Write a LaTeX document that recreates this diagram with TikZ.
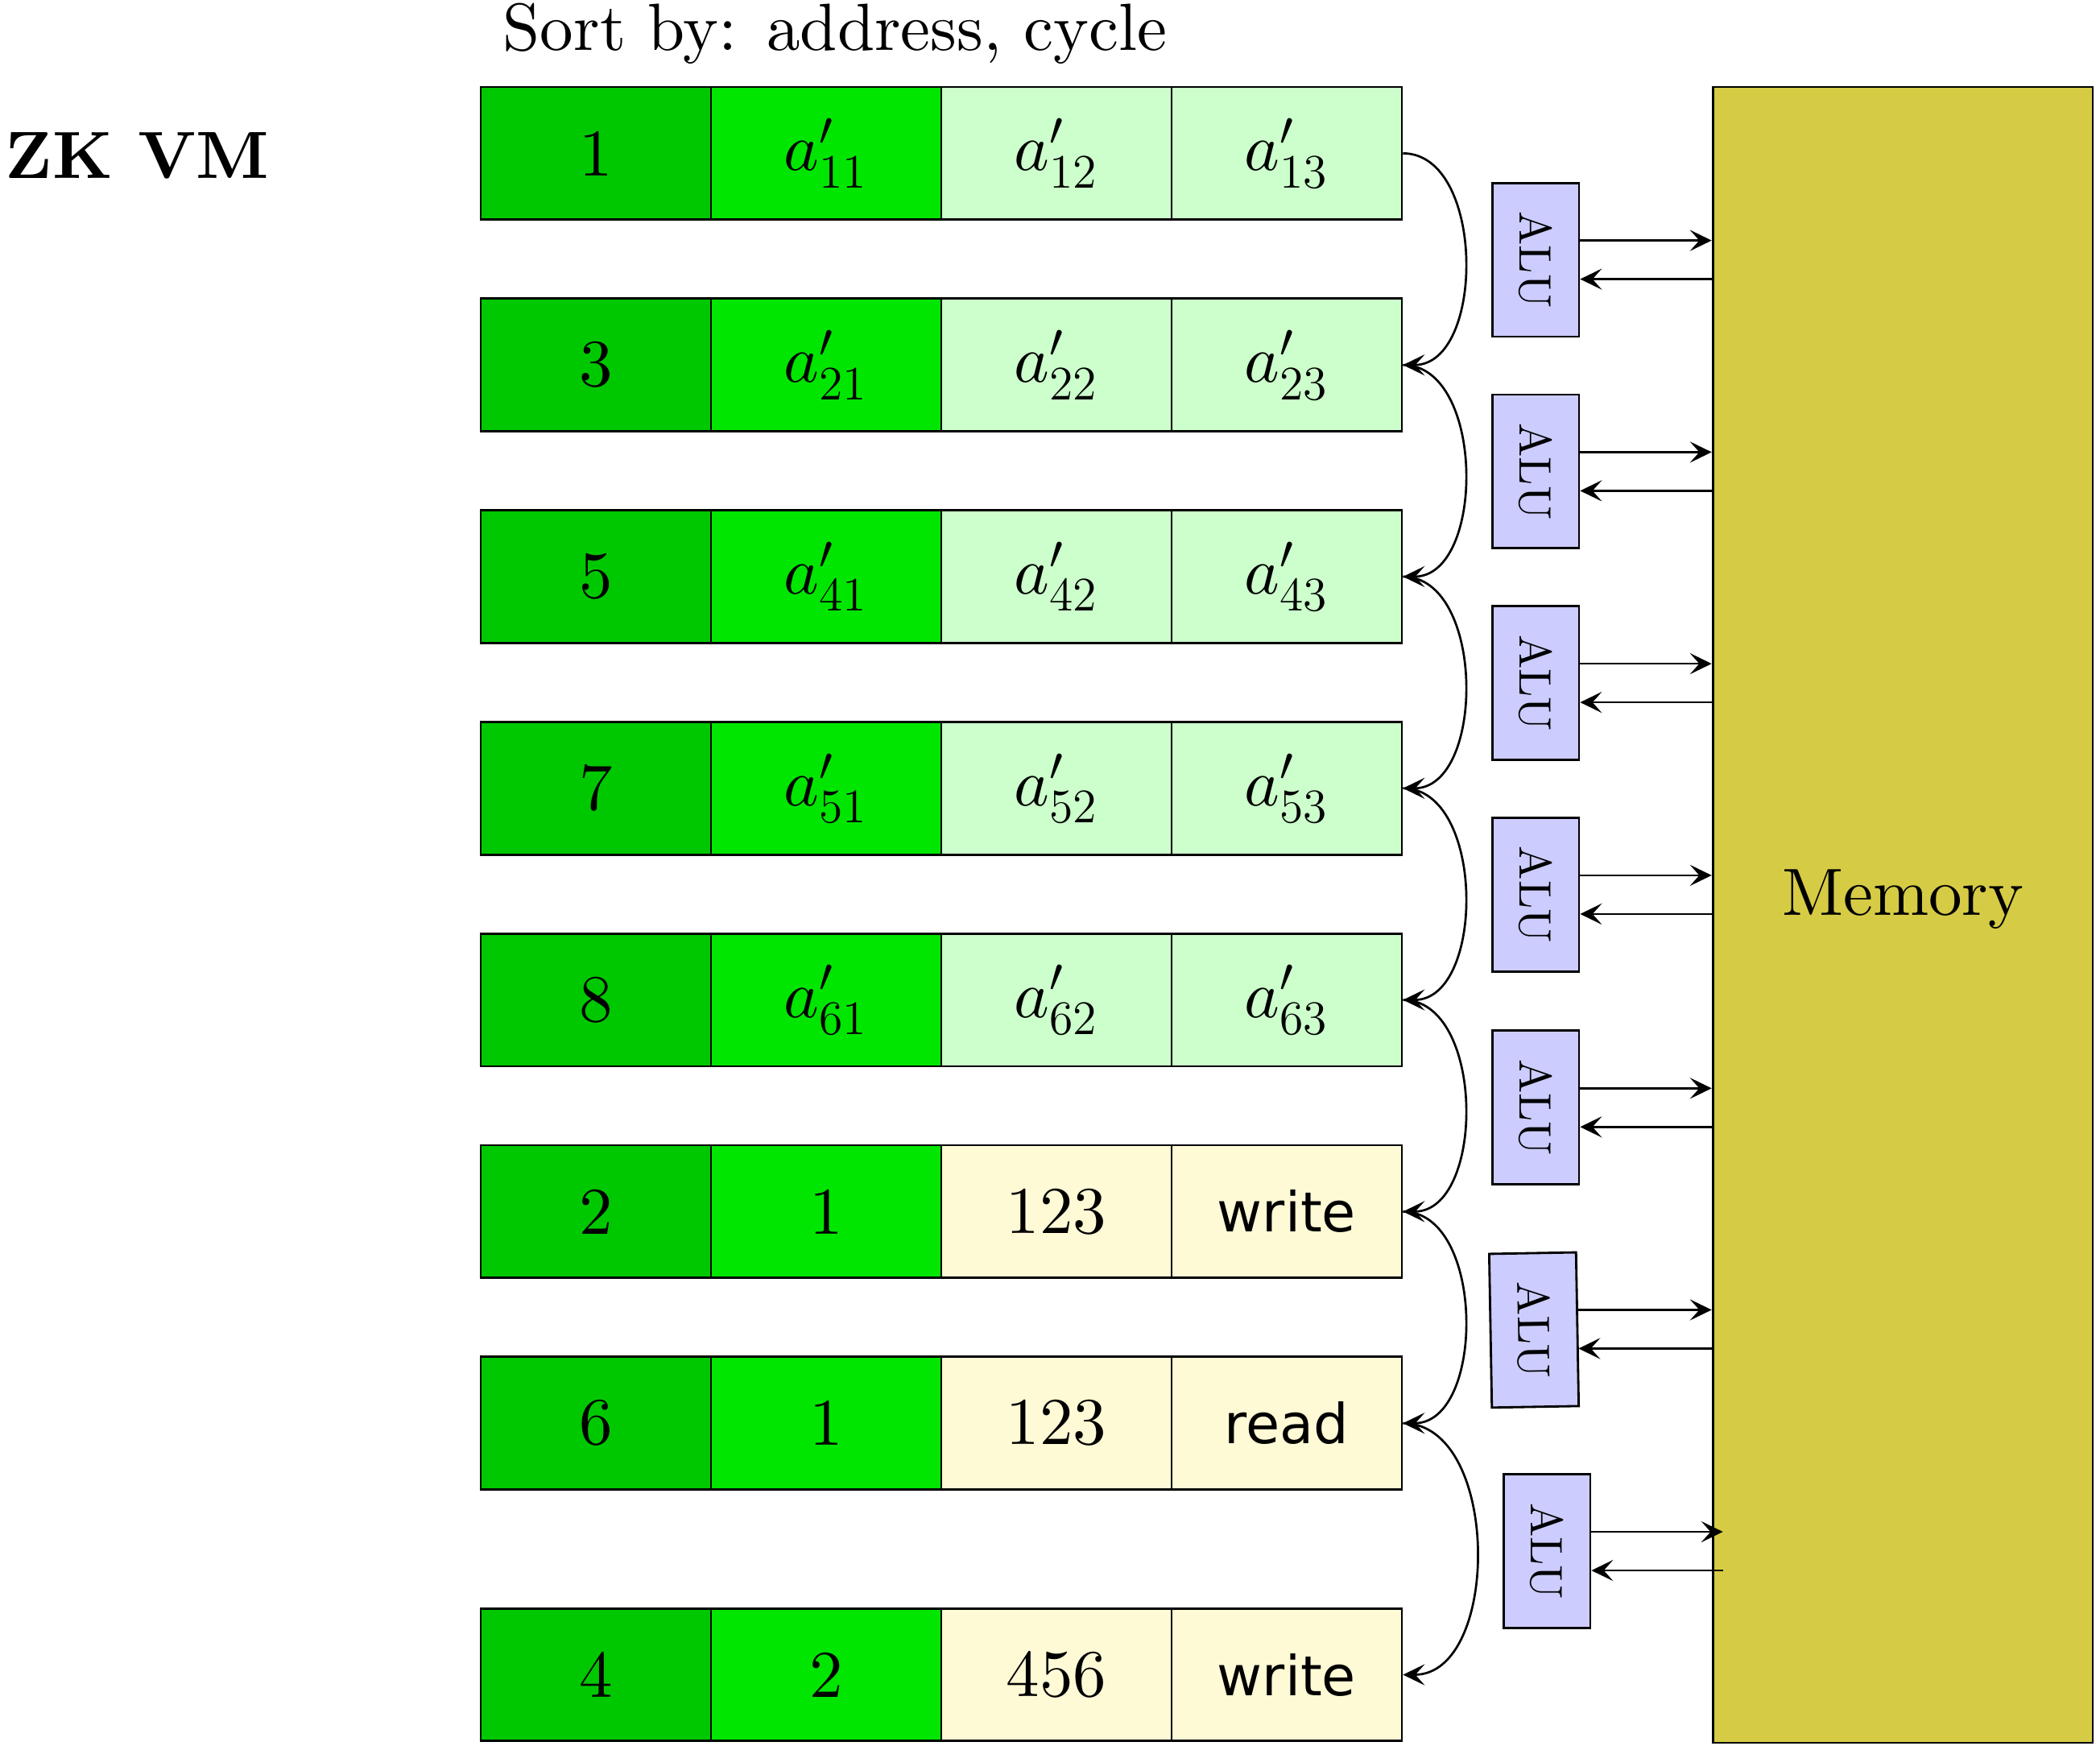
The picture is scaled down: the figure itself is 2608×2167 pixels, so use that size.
\documentclass[tikz,border=0pt]{standalone}
\usepackage{fontspec}
\setmainfont{lmroman10-regular.otf}[BoldFont=lmroman10-bold.otf, ItalicFont=lmroman10-italic.otf]
\newfontfamily\dejavu{DejaVu Sans}
\DeclareFontShape{OML}{cmm}{m}{it}{<->cmmi10}{}
\DeclareMathSizes{20}{20}{14}{10}
\usetikzlibrary{arrows.meta,calc}
\definecolor{cA}{RGB}{0,200,0}
\definecolor{cB}{RGB}{0,230,0}
\definecolor{cC}{RGB}{204,255,204}
\definecolor{cY}{RGB}{255,250,214}
\definecolor{cAlu}{RGB}{204,204,255}
\definecolor{cMem}{RGB}{214,203,69}
\newcommand{\sansword}[1]{{\dejavu\fontsize{16.5}{19}\selectfont #1}}
\begin{document}
\begin{tikzpicture}[x=0.241pt,y=-0.241pt,
  font=\fontsize{20}{24}\selectfont,
  cell/.style={draw, line width=0.68pt, minimum width=68.9pt, minimum height=39.7pt, inner sep=0pt, anchor=center},
  alubox/.style={draw, line width=0.68pt, fill=cAlu, minimum width=26pt, minimum height=46pt, inner sep=0pt, font=\fontsize{13.6}{16}\selectfont},
  arr/.style={-{Stealth[length=6.5pt,width=6.3pt,inset=2.8pt]}, line width=0.65pt}]
\useasboundingbox (0,0) rectangle (2608,2167);

\node[anchor=base west, inner sep=0pt, font=\fontsize{20}{24}\selectfont\bfseries] (title) at (6,221) {ZK VM};
\node[anchor=base west, inner sep=0pt] (sortby) at (624,63) {Sort by: address, cycle};

\foreach \r/\y/\ta/\tb/\tc/\tdd/\s in {
 1/190.4/1/$a'_{11}$/$a'_{12}$/$a'_{13}$/cC,
 2/453.2/3/$a'_{21}$/$a'_{22}$/$a'_{23}$/cC,
 3/716.0/5/$a'_{41}$/$a'_{42}$/$a'_{43}$/cC,
 4/978.8/7/$a'_{51}$/$a'_{52}$/$a'_{53}$/cC,
 5/1241.6/8/$a'_{61}$/$a'_{62}$/$a'_{63}$/cC,
 6/1504.4/2/1/123/\sansword{write}/cY,
 7/1767.2/6/1/123/\sansword{read}/cY,
 8/2079.5/4/2/456/\sansword{write}/cY}
{
 \node[cell, fill=cA] (r\r a) at (740,\y) {\ta};
 \node[cell, fill=cB] (r\r b) at (1026,\y) {\tb};
 \node[cell, fill=\s] (r\r c) at (1312,\y) {\tc};
 \node[cell, fill=\s] (r\r d) at (1598,\y) {\tdd};
}

\node[draw, line width=0.68pt, fill=cMem, minimum width=113.7pt, minimum height=495.5pt, inner sep=0pt] (mem) at (2363,1136) {};
\node[anchor=base, inner sep=0pt] (memtxt) at (mem.center) {Memory};

\foreach \i/\j in {1/2,2/3,3/4,4/5,5/6,6/7,7/8}
  \draw[arr] (r\i d.east) to[out=0,in=0] (r\j d.east);

\node[alubox] (alu1) at (1907,322.6) {\rotatebox{-90}{ALU}};
\node[alubox] (alu2) at (1907,585.4) {\rotatebox{-90}{ALU}};
\node[alubox] (alu3) at (1907,848.1) {\rotatebox{-90}{ALU}};
\node[alubox] (alu4) at (1907,1110.9) {\rotatebox{-90}{ALU}};
\node[alubox] (alu5) at (1907,1375.3) {\rotatebox{-90}{ALU}};
\node[alubox, rotate=1] (alu6) at (1905,1651.4) {\rotatebox{-90}{ALU}};
\node[alubox] (alu7) at (1921,1926) {\rotatebox{-90}{ALU}};

\foreach \i in {1,...,6}{
  \coordinate (o\i) at ($(alu\i.east)+(0,-24)$);
  \coordinate (p\i) at ($(alu\i.east)+(0,24)$);
  \draw[arr] (o\i) -- (o\i -| mem.west);
  \draw[arr] (p\i -| mem.west) -- (p\i);
}
\coordinate (o7) at ($(alu7.east)+(0,-24)$);
\coordinate (p7) at ($(alu7.east)+(0,24)$);
\coordinate (mo7) at ($(o7 -| mem.west)+(14,0)$);
\coordinate (mp7) at ($(p7 -| mem.west)+(14,0)$);
\draw[arr] (o7) -- (mo7);
\draw[arr] (mp7) -- (p7);
\end{tikzpicture}
\end{document}
